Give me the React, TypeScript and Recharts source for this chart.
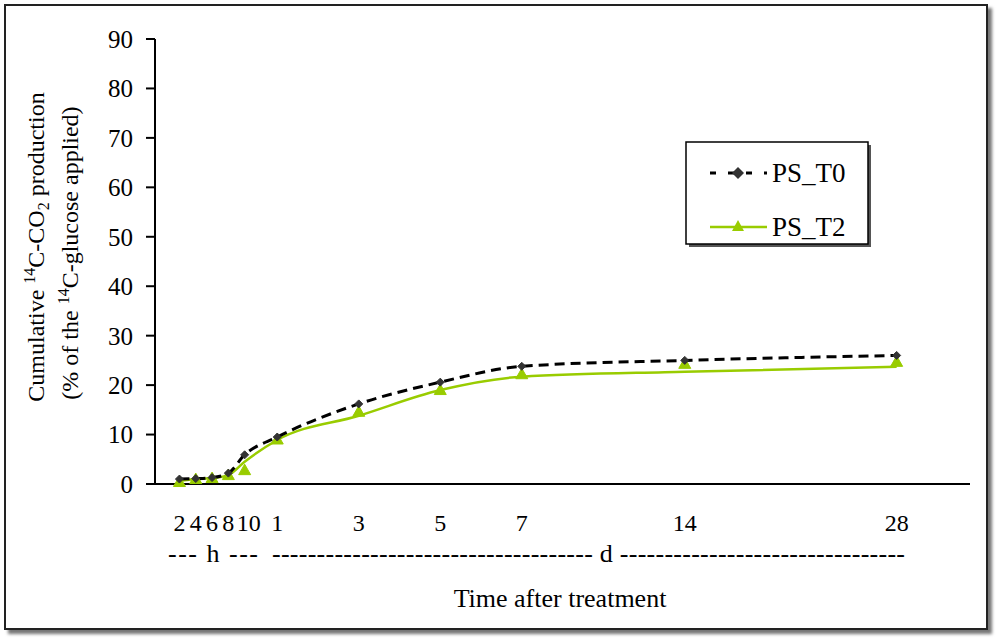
import { ComposedChart, Line, XAxis, YAxis } from 'recharts'

// time slots as placed on the original axis (hours first, then days)
const slots = [0, 1, 2, 3, 4, 6, 11, 16, 21, 31, 44]
const timeLabels = ['2', '4', '6', '8', '10', '1', '3', '5', '7', '14', '28']

const psT0 = [1.0, 1.1, 1.3, 2.2, 5.9, 9.5, 16.2, 20.6, 23.8, 25.0, 26.0]
const psT2Marks = [0.4, 1.0, 1.2, 1.8, 2.8, 9.0, 14.6, 19.0, 22.2, 24.3, 24.7]
const psT2Curve = [0.6, 1.0, 1.2, 1.8, 4.5, 8.9, 13.8, 19.0, 21.7, 22.7, 23.7]

const yTicks = [0, 10, 20, 30, 40, 50, 60, 70, 80, 90]

const FONT = '"Liberation Serif", "Times New Roman", serif'
const GREEN = '#99cc00'

const data = slots.map((slot, i) => ({
  slot,
  t0: psT0[i],
  t2Mark: psT2Marks[i],
  t2Curve: psT2Curve[i],
}))

const Diamond = (props: any) => {
  const { cx, cy, index } = props
  if (cx == null || cy == null) return null
  const r = 4
  return (
    <path
      key={`d-${index}`}
      d={`M${cx},${cy - r} L${cx + r},${cy} L${cx},${cy + r} L${cx - r},${cy} Z`}
      fill="#333"
      stroke="#333"
    />
  )
}

const Triangle = (props: any) => {
  const { cx, cy, index } = props
  if (cx == null || cy == null) return null
  const r = 6
  return (
    <path
      key={`t-${index}`}
      d={`M${cx},${cy - r} L${cx + r},${cy + r * 0.75} L${cx - r},${cy + r * 0.75} Z`}
      fill={GREEN}
      stroke={GREEN}
    />
  )
}

const TimeTick = (props: any) => {
  const { x, y, payload } = props
  const i = slots.indexOf(payload.value)
  const label = timeLabels[i]
  return (
    <text
      x={x}
      y={y + 45}
      dx={label === '10' ? 4 : 0}
      textAnchor="middle"
      fontSize={24}
      fontFamily={FONT}
      fill="#000"
    >
      {label}
    </text>
  )
}

export default function App() {
  return (
    <div style={{ position: 'absolute', left: 0, top: 0, width: 1000, height: 640, background: '#fff' }}>
      <div
        style={{
          position: 'absolute',
          left: 4,
          top: 4,
          width: 980,
          height: 622,
          border: '2px solid #222',
          boxShadow: '4px 4px 3px #777',
        }}
      />
      <div style={{ position: 'absolute', left: 0, top: 0 }}>
        <ComposedChart
          width={1000}
          height={640}
          data={data}
          margin={{ top: 39, right: 30, bottom: 126, left: 95 }}
        >
          <XAxis
            type="number"
            dataKey="slot"
            domain={[-1.5, 48.5]}
            ticks={slots}
            tick={<TimeTick />}
            tickLine={false}
            tickSize={0}
            height={30}
            axisLine={{ stroke: '#000', strokeWidth: 2 }}
            interval={0}
          />
          <YAxis
            domain={[0, 90]}
            ticks={yTicks}
            width={60}
            tickSize={9}
            tickMargin={13}
            tick={{ fontSize: 25, fontFamily: FONT, fill: '#000' }}
            tickLine={{ stroke: '#000', strokeWidth: 2 }}
            axisLine={{ stroke: '#000', strokeWidth: 2 }}
          />
          <Line
            dataKey="t2Curve"
            type="monotone"
            stroke={GREEN}
            strokeWidth={2.5}
            dot={false}
            isAnimationActive={false}
          />
          <Line
            dataKey="t2Mark"
            stroke="none"
            dot={<Triangle />}
            isAnimationActive={false}
          />
          <Line
            dataKey="t0"
            type="monotone"
            stroke="#000"
            strokeWidth={3}
            strokeDasharray="10 6"
            dot={<Diamond />}
            isAnimationActive={false}
          />
        </ComposedChart>
      </div>
      <svg
        width={1000}
        height={640}
        style={{ position: 'absolute', left: 0, top: 0, pointerEvents: 'none' }}
        fontFamily={FONT}
      >
        <text transform="translate(44,247) rotate(-90)" textAnchor="middle" fontSize={24}>
          Cumulative{' '}
          <tspan fontSize={16} dy={-9}>14</tspan>
          <tspan dy={9}>C-CO</tspan>
          <tspan fontSize={16} dy={5}>2</tspan>
          <tspan dy={-5}> production</tspan>
        </text>
        <text transform="translate(78,253) rotate(-90)" textAnchor="middle" fontSize={24}>
          (% of the{' '}
          <tspan fontSize={16} dy={-9}>14</tspan>
          <tspan dy={9}>C-glucose applied)</tspan>
        </text>
        <text x={168} y={562} fontSize={26} textLength={90} lengthAdjust="spacing">
          --- h ---
        </text>
        <text x={272} y={562} fontSize={26} textLength={633} lengthAdjust="spacing">
          {'-'.repeat(36) + ' d ' + '-'.repeat(32)}
        </text>
        <text x={560} y={607} textAnchor="middle" fontSize={26}>
          Time after treatment
        </text>
        <rect x={689} y={145} width={182} height={102} fill="#555" />
        <rect x={686} y={142} width={182} height={102} fill="#fff" stroke="#000" strokeWidth={1.5} />
        <line x1={710} x2={767} y1={173} y2={173} stroke="#000" strokeWidth={3} strokeDasharray="6 12" />
        <path d="M738,167 L744,173 L738,179 L732,173 Z" fill="#333" />
        <text x={772} y={182} fontSize={27}>PS_T0</text>
        <line x1={710} x2={767} y1={227} y2={227} stroke={GREEN} strokeWidth={2.5} />
        <path d="M738,220 L744,231 L732,231 Z" fill={GREEN} />
        <text x={772} y={236} fontSize={27}>PS_T2</text>
      </svg>
    </div>
  )
}
